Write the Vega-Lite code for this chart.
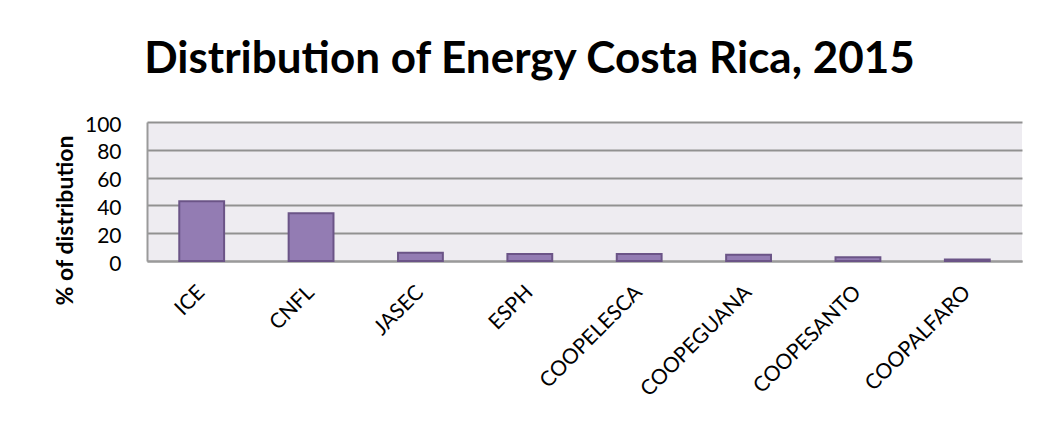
{
  "$schema": "https://vega.github.io/schema/vega-lite/v6.json",
  "width": 875,
  "height": 139,
  "autosize": {"type": "none"},
  "padding": {"left": 147, "top": 122, "right": 37, "bottom": 172},
  "background": "white",
  "title": {
    "text": "Distribution of Energy Costa Rica, 2015",
    "font": "Lato",
    "fontSize": 44,
    "fontWeight": "bold",
    "color": "#000000",
    "anchor": "middle",
    "dx": -55,
    "offset": 32
  },
  "data": {
    "values": [
      {"company": "ICE", "pct": 43.0},
      {"company": "CNFL", "pct": 34.3},
      {"company": "JASEC", "pct": 6.0},
      {"company": "ESPH", "pct": 5.0},
      {"company": "COOPELESCA", "pct": 5.1},
      {"company": "COOPEGUANA", "pct": 4.5},
      {"company": "COOPESANTO", "pct": 2.7},
      {"company": "COOPALFARO", "pct": 1.0}
    ]
  },
  "mark": {"type": "bar", "fill": "#937CB3", "stroke": "#6B5487", "strokeWidth": 2},
  "encoding": {
    "x": {
      "field": "company",
      "type": "nominal",
      "sort": null,
      "scale": {"paddingInner": 0.59, "paddingOuter": 0.295},
      "axis": {
        "title": null,
        "labelAngle": -45,
        "labelAlign": "right",
        "labelBaseline": "middle",
        "labelPadding": 28,
        "labelFont": "Lato",
        "labelFontSize": 21,
        "labelColor": "#000000",
        "ticks": false,
        "domainColor": "#9a9a9a",
        "domainWidth": 2
      }
    },
    "y": {
      "field": "pct",
      "type": "quantitative",
      "scale": {"domain": [0, 100], "nice": false},
      "axis": {
        "title": "% of distribution",
        "titleFont": "Lato",
        "titleFontSize": 23,
        "titleFontWeight": "bold",
        "titleColor": "#000000",
        "titleAngle": -90,
        "titleX": -82,
        "titleY": 98,
        "titleAlign": "center",
        "titleBaseline": "middle",
        "values": [0, 20, 40, 60, 80, 100],
        "labelFont": "Lato",
        "labelFontSize": 21,
        "labelColor": "#000000",
        "labelPadding": 26,
        "labelOffset": 3,
        "ticks": false,
        "domainColor": "#9a9a9a",
        "domainWidth": 2,
        "gridColor": "#919191",
        "gridWidth": 2
      }
    }
  },
  "config": {
    "view": {"fill": "#EEECF1", "stroke": null}
  }
}
